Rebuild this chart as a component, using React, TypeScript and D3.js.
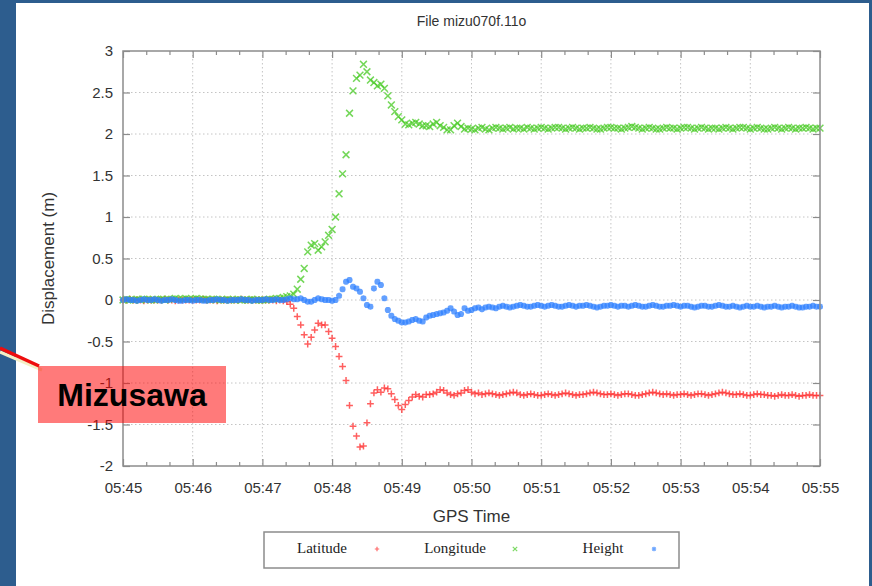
import { useEffect, useRef } from 'react'
import * as d3 from 'd3'

// GPS displacement, Mizusawa station, 05:45 - 05:55, one value every 3 s
const START = new Date(2011, 2, 11, 5, 45, 0)
const END = new Date(2011, 2, 11, 5, 55, 0)
const SAMPLE_SEC = 3

const yTicks = [-2, -1.5, -1, -0.5, 0, 0.5, 1, 1.5, 2, 2.5, 3]

const latitude = [
    0.0, 0.0, 0.01, 0.0, 0.0, 0.0, -0.01, 0.0, 0.0, 0.0,
    0.0, 0.0, 0.01, 0.0, 0.0, -0.01, 0.0, 0.0, 0.0, 0.0,
    0.0, 0.0, 0.0, 0.01, 0.0, 0.0, 0.0, -0.01, 0.0, 0.0,
    0.0, 0.0, 0.0, 0.0, 0.01, 0.0, 0.0, 0.0, 0.0, 0.0,
    0.0, 0.0, 0.0, 0.0, -0.01, 0.0, -0.01, -0.02, -0.05, -0.1,
    -0.2, -0.3, -0.42, -0.53, -0.45, -0.36, -0.28, -0.3, -0.3, -0.38,
    -0.46, -0.56, -0.68, -0.8, -0.97, -1.27, -1.52, -1.64, -1.77, -1.76,
    -1.48, -1.25, -1.12, -1.08, -1.11, -1.06, -1.07, -1.13, -1.2, -1.27,
    -1.32, -1.26, -1.21, -1.17, -1.14, -1.16, -1.17, -1.14, -1.14, -1.13,
    -1.11, -1.08, -1.09, -1.12, -1.14, -1.15, -1.13, -1.12, -1.09, -1.08,
    -1.11, -1.13, -1.12, -1.14, -1.13, -1.12, -1.13, -1.14, -1.15, -1.14,
    -1.13, -1.12, -1.11, -1.12, -1.14, -1.15, -1.14, -1.13, -1.14, -1.15,
    -1.15, -1.14, -1.13, -1.14, -1.15, -1.14, -1.13, -1.12, -1.13, -1.14,
    -1.15, -1.14, -1.14, -1.13, -1.12, -1.11, -1.12, -1.13, -1.14, -1.14,
    -1.13, -1.14, -1.15, -1.14, -1.13, -1.13, -1.14, -1.15, -1.15, -1.14,
    -1.13, -1.12, -1.11, -1.12, -1.13, -1.14, -1.13, -1.14, -1.15, -1.14,
    -1.14, -1.13, -1.14, -1.15, -1.14, -1.13, -1.13, -1.14, -1.15, -1.14,
    -1.13, -1.12, -1.11, -1.12, -1.13, -1.14, -1.14, -1.13, -1.14, -1.15,
    -1.15, -1.14, -1.13, -1.14, -1.14, -1.15, -1.15, -1.16, -1.15, -1.14,
    -1.15, -1.15, -1.14, -1.15, -1.16, -1.15, -1.15, -1.14, -1.15, -1.15,
    -1.15,
]

const longitude = [
    0.0, 0.01, 0.0, 0.0, 0.01, 0.0, 0.01, 0.01, 0.0, 0.0,
    0.01, 0.01, 0.0, 0.01, 0.01, 0.02, 0.01, 0.01, 0.02, 0.01,
    0.01, 0.02, 0.01, 0.01, 0.01, 0.0, 0.01, 0.01, 0.0, 0.0,
    0.01, 0.0, 0.0, 0.01, 0.0, 0.0, 0.0, 0.01, 0.0, 0.0,
    0.0, 0.0, 0.01, 0.01, 0.02, 0.02, 0.03, 0.04, 0.05, 0.07,
    0.13, 0.25, 0.38, 0.58, 0.66, 0.68, 0.6, 0.64, 0.7, 0.78,
    0.85, 1.0, 1.28, 1.52, 1.75, 2.25, 2.52, 2.67, 2.71, 2.84,
    2.75, 2.65, 2.62, 2.58, 2.6, 2.55, 2.46, 2.35, 2.27, 2.21,
    2.17, 2.12, 2.11, 2.13, 2.14, 2.12, 2.1, 2.1, 2.09, 2.12,
    2.14, 2.1, 2.08, 2.05, 2.05, 2.1, 2.13, 2.09, 2.06, 2.07,
    2.06, 2.05, 2.07, 2.08, 2.06, 2.05, 2.07, 2.08, 2.07, 2.06,
    2.07, 2.08, 2.06, 2.07, 2.07, 2.06, 2.08, 2.07, 2.06, 2.07,
    2.08, 2.07, 2.06, 2.07, 2.08, 2.08, 2.07, 2.06, 2.07, 2.08,
    2.07, 2.06, 2.07, 2.07, 2.08, 2.07, 2.06, 2.06, 2.07, 2.08,
    2.08, 2.07, 2.07, 2.06, 2.07, 2.08, 2.09, 2.08, 2.07, 2.06,
    2.07, 2.08, 2.07, 2.06, 2.06, 2.07, 2.08, 2.07, 2.07, 2.06,
    2.07, 2.08, 2.08, 2.07, 2.06, 2.07, 2.08, 2.07, 2.06, 2.07,
    2.07, 2.06, 2.07, 2.08, 2.07, 2.06, 2.07, 2.08, 2.08, 2.07,
    2.06, 2.07, 2.08, 2.07, 2.06, 2.06, 2.07, 2.08, 2.07, 2.06,
    2.07, 2.08, 2.07, 2.06, 2.07, 2.07, 2.08, 2.07, 2.06, 2.07,
    2.07,
]

const height = [
    0.0, 0.01, 0.0, 0.0, -0.01, 0.0, 0.01, 0.0, 0.0, 0.01,
    0.0, -0.01, 0.0, 0.0, 0.01, 0.0, -0.01, -0.01, 0.0, 0.0,
    -0.01, 0.0, 0.0, -0.01, -0.01, 0.0, 0.0, 0.01, 0.0, 0.0,
    -0.01, 0.0, 0.0, 0.0, 0.01, 0.0, 0.0, -0.01, 0.0, 0.0,
    0.0, 0.01, 0.0, 0.0, 0.01, 0.0, 0.0, 0.01, 0.02, 0.01,
    0.01, 0.02, 0.0, -0.02, -0.02, 0.0, 0.02, 0.01, 0.0, 0.0,
    -0.01, 0.0, 0.05, 0.13, 0.22, 0.24, 0.16, 0.14, 0.1, 0.02,
    -0.06, -0.08, 0.14, 0.22, 0.18, 0.02, -0.12, -0.19, -0.23, -0.25,
    -0.27, -0.27, -0.26, -0.24, -0.23, -0.25, -0.26, -0.21, -0.19, -0.18,
    -0.17, -0.16, -0.15, -0.13, -0.1, -0.14, -0.18, -0.17, -0.1, -0.13,
    -0.12, -0.1, -0.09, -0.11, -0.09, -0.08, -0.09, -0.1, -0.08, -0.07,
    -0.08, -0.09, -0.08, -0.07, -0.06, -0.07, -0.08, -0.08, -0.07, -0.06,
    -0.07, -0.08, -0.07, -0.06, -0.07, -0.08, -0.08, -0.07, -0.06, -0.07,
    -0.08, -0.07, -0.07, -0.06, -0.07, -0.08, -0.09, -0.08, -0.07, -0.07,
    -0.06, -0.07, -0.08, -0.07, -0.07, -0.08, -0.07, -0.06, -0.07, -0.08,
    -0.08, -0.07, -0.06, -0.07, -0.08, -0.08, -0.07, -0.07, -0.06, -0.07,
    -0.08, -0.07, -0.07, -0.08, -0.09, -0.08, -0.07, -0.07, -0.08, -0.08,
    -0.07, -0.06, -0.07, -0.08, -0.08, -0.07, -0.08, -0.09, -0.08, -0.07,
    -0.08, -0.08, -0.07, -0.08, -0.09, -0.08, -0.08, -0.07, -0.08, -0.09,
    -0.08, -0.08, -0.07, -0.08, -0.09, -0.09, -0.08, -0.08, -0.07, -0.08,
    -0.08,
]

const seriesList = [
    { name: 'Latitude', values: latitude, color: '#ff2a2a', shape: 'plus' },
    { name: 'Longitude', values: longitude, color: '#45c922', shape: 'cross' },
    { name: 'Height', values: height, color: '#2f80ff', shape: 'star' },
]

const W = 872
const H = 586
const margin = { top: 51, right: 52, bottom: 120, left: 123 }

const markerPath = (shape: string, r: number) => {
    if (shape === 'plus') return `M${-r},0H${r}M0,${-r}V${r}`
    if (shape === 'cross') return `M${-r},${-r}L${r},${r}M${-r},${r}L${r},${-r}`
    const d = r * 0.75
    return `M${-r},0H${r}M0,${-r}V${r}M${-d},${-d}L${d},${d}M${-d},${d}L${d},${-d}`
}

const App = () => {
    const svgRef = useRef<SVGSVGElement>(null)

    useEffect(() => {
        if (!svgRef.current) return
        const svg = d3.select(svgRef.current)
        svg.selectAll('*').remove()

        const x0 = margin.left
        const x1 = W - margin.right
        const y0 = H - margin.bottom
        const y1 = margin.top

        const x = d3.scaleTime().domain([START, END]).range([x0, x1])
        const y = d3.scaleLinear().domain([-2, 3]).range([y0, y1])

        // slide frame
        svg.append('rect').attr('width', W).attr('height', H).attr('fill', '#2d5d8e')
        svg.append('rect')
            .attr('x', 16)
            .attr('y', 3)
            .attr('width', 853)
            .attr('height', H - 3)
            .attr('fill', '#ffffff')

        const minutes = d3.timeMinute.range(START, new Date(+END + 1))
        const minors = d3.timeSecond
            .every(20)!
            .range(START, new Date(+END + 1))
            .filter(d => d.getSeconds() !== 0)

        // grid
        const grid = svg.append('g')
            .attr('stroke', '#c4c4c4')
            .attr('stroke-width', 1)
            .attr('stroke-dasharray', '1.5,2.5')
        minutes.slice(1, -1).forEach(m => {
            grid.append('line')
                .attr('x1', x(m)).attr('x2', x(m))
                .attr('y1', y1).attr('y2', y0)
        })
        yTicks.slice(1, -1).forEach(v => {
            grid.append('line')
                .attr('x1', x0).attr('x2', x1)
                .attr('y1', y(v)).attr('y2', y(v))
        })

        // axes (ticks point inward)
        const styleAxis = (g: d3.Selection<SVGGElement, unknown, null, undefined>) => {
            g.select('.domain').remove()
            g.selectAll('.tick line').attr('stroke', '#8c8c8c').attr('stroke-width', 1.2)
            g.selectAll('.tick text')
                .attr('fill', '#333')
                .attr('font-family', '"Liberation Sans", Arial, sans-serif')
                .attr('font-size', 15)
        }
        const fmt = d3.timeFormat('%H:%M')

        svg.append('g')
            .attr('transform', `translate(0,${y0})`)
            .call(d3.axisBottom(x).tickValues(minutes).tickFormat(d => fmt(d as Date))
                .tickSizeInner(-7).tickSizeOuter(0).tickPadding(16))
            .call(styleAxis)
        svg.append('g')
            .attr('transform', `translate(0,${y0})`)
            .call(d3.axisBottom(x).tickValues(minors).tickFormat(() => '')
                .tickSizeInner(-4).tickSizeOuter(0))
            .call(styleAxis)
        svg.append('g')
            .attr('transform', `translate(0,${y1})`)
            .call(d3.axisTop(x).tickValues(minutes).tickFormat(() => '')
                .tickSizeInner(-7).tickSizeOuter(0))
            .call(styleAxis)
        svg.append('g')
            .attr('transform', `translate(0,${y1})`)
            .call(d3.axisTop(x).tickValues(minors).tickFormat(() => '')
                .tickSizeInner(-4).tickSizeOuter(0))
            .call(styleAxis)
        svg.append('g')
            .attr('transform', `translate(${x0},0)`)
            .call(d3.axisLeft(y).tickValues(yTicks).tickFormat(d => String(d))
                .tickSizeInner(-7).tickSizeOuter(0).tickPadding(10))
            .call(styleAxis)
        svg.append('g')
            .attr('transform', `translate(${x1},0)`)
            .call(d3.axisRight(y).tickValues(yTicks).tickFormat(() => '')
                .tickSizeInner(-7).tickSizeOuter(0))
            .call(styleAxis)

        // series
        seriesList.forEach(s => {
            const star = s.shape === 'star'
            svg.append('g')
                .attr('fill', 'none')
                .attr('stroke', s.color)
                .attr('stroke-width', star ? 2 : 1.5)
                .attr('stroke-opacity', 0.75)
                .selectAll('path')
                .data(s.values)
                .join('path')
                .attr('transform', (v, i) =>
                    `translate(${x(new Date(+START + i * SAMPLE_SEC * 1000))},${y(v)})`)
                .attr('d', markerPath(s.shape, star ? 3 : 3.4))
        })

        // plot border
        svg.append('rect')
            .attr('x', x0).attr('y', y1)
            .attr('width', x1 - x0).attr('height', y0 - y1)
            .attr('fill', 'none')
            .attr('stroke', '#8c8c8c')
            .attr('stroke-width', 1.5)

        const cx = (x0 + x1) / 2
        const sans = '"Liberation Sans", Arial, sans-serif'
        svg.append('text')
            .attr('x', cx).attr('y', 26)
            .attr('text-anchor', 'middle')
            .attr('font-family', sans).attr('font-size', 14).attr('fill', '#333')
            .text('File mizu070f.11o')
        svg.append('text')
            .attr('x', cx).attr('y', 522)
            .attr('text-anchor', 'middle')
            .attr('font-family', sans).attr('font-size', 17).attr('fill', '#333')
            .text('GPS Time')
        svg.append('text')
            .attr('transform', `translate(54,${(y0 + y1) / 2}) rotate(-90)`)
            .attr('text-anchor', 'middle')
            .attr('font-family', sans).attr('font-size', 17).attr('fill', '#333')
            .text('Displacement (m)')

        // legend
        const legend = svg.append('g')
        legend.append('rect')
            .attr('x', 264).attr('y', 532)
            .attr('width', 415).attr('height', 36)
            .attr('fill', '#fff')
            .attr('stroke', '#8c8c8c')
            .attr('stroke-width', 1.5)
        const legendText = [322, 455, 603]
        const legendMark = [377, 515, 654]
        seriesList.forEach((s, i) => {
            legend.append('text')
                .attr('x', legendText[i]).attr('y', 553)
                .attr('text-anchor', 'middle')
                .attr('font-family', '"Liberation Serif", "Times New Roman", serif')
                .attr('font-size', 15).attr('fill', '#222')
                .text(s.name)
            legend.append('path')
                .attr('transform', `translate(${legendMark[i]},549)`)
                .attr('d', markerPath(s.shape, 2.2))
                .attr('fill', 'none')
                .attr('stroke', s.color)
                .attr('stroke-opacity', 0.7)
                .attr('stroke-width', 1.2)
        })

        // station callout (its box sits over the -1 tick label, as in the slide)
        svg.append('line')
            .attr('x1', 0).attr('y1', 352).attr('x2', 42).attr('y2', 370)
            .attr('stroke', '#f4efc6').attr('stroke-width', 3)
        svg.append('line')
            .attr('x1', 0).attr('y1', 348).attr('x2', 39).attr('y2', 366)
            .attr('stroke', '#ee0d0d').attr('stroke-width', 3.5)
        svg.append('rect')
            .attr('x', 38).attr('y', 366)
            .attr('width', 188).attr('height', 57)
            .attr('fill', '#ff0000')
            .attr('fill-opacity', 0.52)
        svg.append('text')
            .attr('x', 132).attr('y', 406)
            .attr('text-anchor', 'middle')
            .attr('font-family', sans).attr('font-weight', 'bold')
            .attr('font-size', 32).attr('fill', '#000')
            .text('Mizusawa')
    }, [])

    return (
        <svg
            ref={svgRef}
            width={W}
            height={H}
            style={{ position: 'absolute', left: 0, top: 0, display: 'block' }}
        ></svg>
    )
}

export default App
